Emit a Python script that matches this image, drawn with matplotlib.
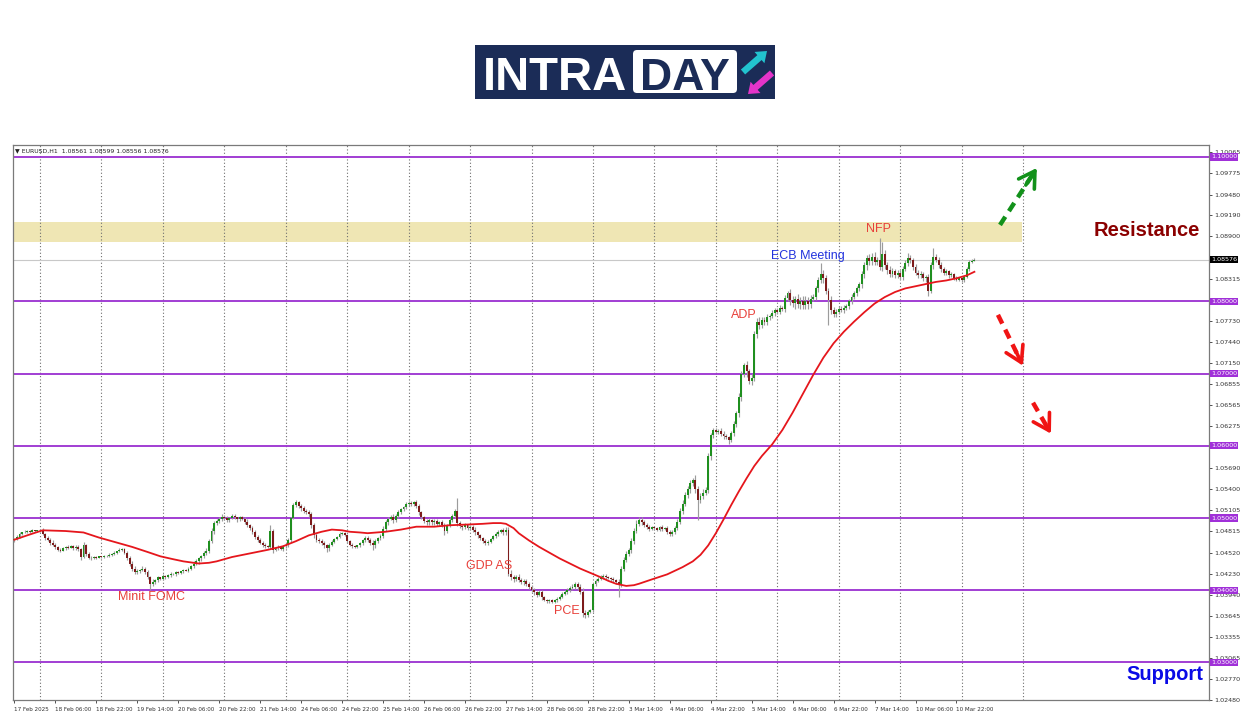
import numpy as np
import matplotlib
matplotlib.use("Agg")
import matplotlib.pyplot as plt
from matplotlib.patches import Rectangle, FancyBboxPatch, FancyArrow
from matplotlib.transforms import blended_transform_factory

plt.rcParams['font.family'] = ['DejaVu Sans']

# ---------------- data: prices in pips above 1.0000 (EURUSD H1) ----------------
FIRST_OPEN = 469.0
CLOSE_17FEB = [471,474,478,480,481,482,481,483,482,483]
CLOSE_18FEB = [484,478,473,470,466,463,460,456,455,458,460,459,461,458,460,457,446,462,450,445,444,446,445,447]
CLOSE_19FEB = [446,448,447,449,450,452,454,456,457,452,445,437,430,425,427,428,430,425,418,408,412,414,418,416]
CLOSE_20FEB = [420,418,421,423,422,425,424,426,428,427,430,433,437,440,444,447,452,455,468,482,493,496,499,502]
CLOSE_21FEB = [500,497,500,503,501,498,501,499,495,490,486,480,474,470,466,463,461,460,482,456,458,460,457,461]
CLOSE_24FEB = [463,470,500,518,522,517,514,510,508,505,490,476,470,468,465,462,458,463,467,471,474,478,479,476]
CLOSE_25FEB = [468,463,461,460,462,465,469,472,470,466,462,468,472,475,485,494,499,501,497,503,508,512,515,519]
CLOSE_26FEB = [521,519,522,517,508,501,496,494,497,494,496,492,494,490,482,490,497,503,510,493,489,487,490,486]
CLOSE_27FEB = [488,484,480,476,472,468,465,467,471,475,478,481,483,480,484,423,418,416,418,414,411,413,409,405]
CLOSE_28FEB = [400,397,394,398,390,387,385,386,384,386,388,391,395,398,400,403,405,408,404,398,368,366,370,372]
CLOSE_03MAR = [408,413,416,418,420,418,417,415,414,412,408,430,442,450,456,468,482,492,497,494,490,488,485,487]
CLOSE_04MAR = [486,484,487,485,486,481,478,480,486,495,510,520,532,540,548,553,540,525,530,535,539,586,615,622]
CLOSE_05MAR = [619,621,617,614,612,608,618,630,645,668,700,712,703,690,694,755,772,768,774,772,778,780,784,788]
CLOSE_06MAR = [786,791,790,805,812,802,798,803,797,800,795,801,796,804,806,818,830,838,832,815,802,788,782,786]
CLOSE_07MAR = [790,788,791,793,800,806,812,818,824,838,850,860,856,862,855,858,848,865,850,843,838,842,836,840]
CLOSE_10MAR = [834,845,853,860,857,848,840,836,838,832,834,815,850,862,858,850,845,840,842,836,838,833,830,832]
CLOSE_11MAR = [829,834,845,855,856,857.6]

UPPER_WICK = [
    [2,2,3,1,2,2,1,2,1,1],
    [1,2,1,2,2,3,2,1,2,2,1,2,2,1,2,3,2,5,2,3,2,2,1,1],
    [1,1,1,2,1,2,1,2,2,1,2,3,3,4,3,2,3,2,3,2,3,2,2,1],
    [2,1,1,2,1,1,2,1,1,2,2,2,3,3,2,2,3,4,3,4,3,2,3,4],
    [2,3,2,3,2,1,2,2,2,3,2,3,3,2,3,2,2,2,9,3,2,2,1,1],
    [2,3,2,3,3,2,2,3,2,3,4,3,3,2,3,3,2,2,2,2,1,2,1,2],
    [2,1,2,1,1,2,2,3,3,2,3,3,2,3,4,3,3,3,4,3,3,2,2,3],
    [2,3,1,3,3,2,2,2,3,2,3,2,2,3,3,2,3,3,2,18,3,2,3,2],
    [2,2,3,2,2,2,3,2,2,2,2,3,2,3,3,4,5,3,3,4,3,3,2,3],
    [2,3,2,3,2,2,1,2,2,2,2,3,3,2,3,3,4,3,4,4,5,4,3,2],
    [2,3,2,3,2,3,2,2,3,2,3,3,4,4,3,4,4,5,4,4,3,3,3,2],
    [2,2,2,3,2,3,2,3,3,4,4,5,4,5,4,2,6,5,4,5,4,4,3,3],
    [3,2,3,3,2,2,3,4,3,5,4,3,5,4,5,4,5,6,4,5,4,3,4,3],
    [3,4,3,4,3,5,6,5,7,6,8,6,5,5,4,3,4,15,6,5,4,5,4,3],
    [3,3,4,3,3,4,3,4,3,4,5,4,6,5,6,4,30,17,6,5,6,4,3,3],
    [3,4,5,7,4,3,4,3,4,3,3,4,5,12,4,3,4,3,3,2,3,2,2,2],
    [2,3,3,2,3,2.3],
]
LOWER_WICK = [
    [2,1,2,2,1,2,2,1,2,1],
    [2,2,3,2,3,2,3,2,2,1,2,2,1,2,2,3,4,2,3,2,2,1,2,1],
    [1,2,1,1,2,1,2,1,2,2,3,3,4,3,2,3,2,3,3,7,2,3,2,2],
    [2,2,1,2,1,2,1,2,2,1,2,2,2,2,3,3,3,3,4,3,4,3,3,3],
    [3,2,3,2,3,3,2,2,3,3,3,2,3,3,2,3,2,2,3,4,2,2,1,2],
    [2,3,3,2,3,3,4,3,3,3,4,4,3,3,2,3,5,3,2,2,2,2,2,1],
    [2,2,2,2,1,2,2,2,3,3,6,3,2,2,3,3,3,2,4,3,3,2,2,2],
    [3,3,2,3,4,3,3,3,3,4,3,3,3,3,5,3,2,2,3,4,3,3,2,2],
    [2,3,3,3,2,3,2,2,2,2,2,3,2,3,3,3,4,4,3,3,3,4,3,3],
    [3,3,3,2,3,2,2,2,2,1,2,2,2,2,3,3,3,3,3,3,5,4,3,2],
    [2,2,2,2,2,3,2,2,3,3,18,3,3,3,3,4,4,3,3,4,3,3,3,2],
    [2,2,2,3,2,3,3,3,2,3,3,4,4,4,5,4,5,28,4,4,3,5,5,4],
    [3,3,3,4,3,5,3,4,4,5,6,5,7,5,6,4,5,6,5,5,4,4,3,4],
    [3,4,3,5,4,7,6,8,6,7,6,5,6,5,4,4,5,4,6,5,35,5,4,4],
    [3,3,4,3,3,4,3,4,4,5,5,6,5,6,4,5,5,6,5,5,4,4,3,3],
    [3,4,3,4,4,5,4,4,3,4,5,8,4,5,4,4,4,3,3,3,2,3,2,2],
    [2,2,2,3,2,0.5],
]

# moving average (red line): bar index -> price (pips)
MA_BARS = [0, 5, 11, 20, 27, 33, 40, 46, 52, 57, 62, 66, 72, 76, 79, 85, 92, 99, 105, 110,
           115, 120, 124, 128, 131, 135, 138, 145, 151, 157, 164, 170, 177, 183, 187, 190, 192,
           195, 197, 201, 205, 209, 213, 217, 221, 225, 229, 232, 235, 239, 242, 244, 249, 255,
           261, 265, 268, 271, 274, 277, 280, 283, 286, 289, 292, 296, 300, 304, 308, 312, 316,
           320, 324, 328, 332, 336, 340, 344, 348, 352, 356, 360, 364, 368, 372, 375]
MA_PIPS = [470, 476, 483, 482, 480, 473, 466, 460, 453, 447, 443, 440, 437, 438, 440, 446, 451, 456, 461, 468,
           476, 481, 484, 483, 481, 480, 479, 481, 484, 488, 488, 490, 491, 492, 493, 493, 492,
           486, 479, 469, 460, 452, 444, 437, 430, 424, 418, 413, 409, 406, 407, 409, 415, 422,
           432, 440, 449, 462, 479, 498, 518, 537, 555, 572, 586, 602, 622, 646, 672, 698, 722,
           742, 758, 772, 785, 797, 806, 813, 818, 821, 824, 827, 829, 832, 836, 841]

LEVELS = [1.10, 1.08, 1.07, 1.06, 1.05, 1.04, 1.03]
LEVEL_LABELS = ["1.10000", "1.08000", "1.07000", "1.06000", "1.05000", "1.04000", "1.03000"]
CURRENT_PRICE = 1.08576
RESISTANCE_ZONE = (1.08828, 1.09105)

RIGHT_TICKS = [1.10065, 1.09775, 1.09480, 1.09190, 1.08900, 1.08315, 1.07730,
               1.07440, 1.07150, 1.06855, 1.06565, 1.06275, 1.05690, 1.05400, 1.05105,
               1.04815, 1.04520, 1.04230, 1.03940, 1.03645, 1.03355, 1.03065, 1.02770, 1.02480]
TIME_LABELS = ["17 Feb 2025", "18 Feb 06:00", "18 Feb 22:00", "19 Feb 14:00", "20 Feb 06:00",
               "20 Feb 22:00", "21 Feb 14:00", "24 Feb 06:00", "24 Feb 22:00", "25 Feb 14:00",
               "26 Feb 06:00", "26 Feb 22:00", "27 Feb 14:00", "28 Feb 06:00", "28 Feb 22:00",
               "3 Mar 14:00", "4 Mar 06:00", "4 Mar 22:00", "5 Mar 14:00", "6 Mar 06:00",
               "6 Mar 22:00", "7 Mar 14:00", "10 Mar 06:00", "10 Mar 22:00"]
BARS_PER_LABEL = 16
HEADER = "\u25bc EURUSD,H1  1.08561 1.08599 1.08556 1.08576"

# ---------------- build OHLC ----------------
days = [CLOSE_17FEB, CLOSE_18FEB, CLOSE_19FEB, CLOSE_20FEB, CLOSE_21FEB, CLOSE_24FEB, CLOSE_25FEB,
        CLOSE_26FEB, CLOSE_27FEB, CLOSE_28FEB, CLOSE_03MAR, CLOSE_04MAR, CLOSE_05MAR, CLOSE_06MAR,
        CLOSE_07MAR, CLOSE_10MAR, CLOSE_11MAR]
close_p = np.concatenate([np.array(d, float) for d in days])
uw = np.concatenate([np.array(d, float) for d in UPPER_WICK])
lw = np.concatenate([np.array(d, float) for d in LOWER_WICK])
open_p = np.r_[FIRST_OPEN, close_p[:-1]]
C = 1 + close_p / 1e4
O = 1 + open_p / 1e4
H = np.maximum(O, C) + uw / 1e4
L = np.minimum(O, C) - lw / 1e4
n = len(C)
xb = np.arange(n)
day_starts = np.cumsum([len(d) for d in days])[:-1]
grid_bars = list(day_starts) + [day_starts[-1] + 24]

# ---------------- figure ----------------
W, Hh = 1250, 716
fig = plt.figure(figsize=(W / 100, Hh / 100), dpi=100)
fig.patch.set_facecolor('white')
ax = fig.add_axes([13 / W, (Hh - 700) / Hh, (1209 - 13) / W, (700 - 145) / Hh])
X0, PXB = 14.4, 2.56
xl = ((13 - X0) / PXB, (1209 - X0) / PXB)
ax.set_xlim(*xl)
ax.set_ylim(1.02488, 1.10166)

# resistance zone
zone_end = (1022 - X0) / PXB
ax.add_patch(Rectangle((xl[0], RESISTANCE_ZONE[0]), zone_end - xl[0],
                       RESISTANCE_ZONE[1] - RESISTANCE_ZONE[0], fc='#efe6b4', ec='none', zorder=0.5))

# vertical dotted grid at day starts
for g in grid_bars:
    ax.axvline(g, color='#6e6e6e', lw=0.8, ls=(0, (1, 2)), zorder=0.8)

# current price line
ax.axhline(CURRENT_PRICE, color='#c8c8c8', lw=0.8, zorder=0.9)

# level lines
for lv in LEVELS:
    ax.axhline(lv, color='#9a2fd0', lw=1.3, zorder=1)

# candles
up = C >= O
ax.vlines(xb, L, H, color='#9c9c9c', lw=0.85, zorder=3)
body_lo = np.minimum(O, C)
body_h = np.maximum(np.abs(C - O), 0.00004)
ax.bar(xb[up], body_h[up], bottom=body_lo[up], width=0.75, color='#1f8f1f', ec='none', zorder=4)
ax.bar(xb[~up], body_h[~up], bottom=body_lo[~up], width=0.75, color='#7e1b1b', ec='none', zorder=4)

# moving average
ax.plot(MA_BARS, 1 + np.array(MA_PIPS) / 1e4, color='#e5161c', lw=1.3, zorder=5,
        solid_joinstyle='round')

# event labels
ev_kw = dict(fontsize=9, family='Liberation Sans', ha='center', va='center', zorder=6)
ax.text(53.4, 1.03900, "Minit FOMC", color='#e8403a', **ev_kw)
ax.text(185.4, 1.04342, "GDP AS", color='#e8403a', **ev_kw)
ax.text(215.9, 1.03719, "PCE", color='#e8403a', **ev_kw)
ax.text(284.8, 1.07814, "ADP", color='#e8403a', **ev_kw)
ax.text(309.8, 1.08630, "ECB Meeting", color='#2233dd', **ev_kw)
ax.text(337.5, 1.09004, "NFP", color='#e8403a', **ev_kw)

ax.text(442.4, 1.08976, "Resistance", color='#8b0000', fontsize=14.5, fontweight='bold',
        family='Liberation Sans', ha='center', va='center', zorder=6)
ax.text(449.2, 1.02834, "Support", color='#0a0ae6', fontsize=14.5, fontweight='bold',
        family='Liberation Sans', ha='center', va='center', zorder=6)

# arrows (dashed shaft + open head)
def dashed_arrow(x0, y0, x1, y1, color):
    f = 0.88
    xm, ym = x0 + (x1 - x0) * f, y0 + (y1 - y0) * f
    ax.plot([x0, xm], [y0, ym], color=color, lw=3.2, ls=(0, (2.2, 1.5)),
            solid_capstyle='butt', dash_capstyle='butt', zorder=7)
    ax.annotate('', xy=(x1, y1), xytext=(x0 + (x1 - x0) * 0.7, y0 + (y1 - y0) * 0.7),
                arrowprops=dict(arrowstyle='->,head_length=0.75,head_width=0.45', color=color,
                                lw=2.6, mutation_scale=15, shrinkA=0, shrinkB=0), zorder=7)

dashed_arrow(385.0, 1.09059, 399.4, 1.09848, '#12911a')
dashed_arrow(384.2, 1.07814, 393.97, 1.07109, '#f01414')
dashed_arrow(397.9, 1.06597, 404.9, 1.06168, '#f01414')

# header
ax.text(0.002, 0.989, HEADER, transform=ax.transAxes, fontsize=4.4, va='center', ha='left',
        color='#222222', zorder=8)

# axes styling
for s in ax.spines.values():
    s.set_color('#7a7a7a')
    s.set_linewidth(0.9)
ax.yaxis.tick_right()
ax.set_yticks(RIGHT_TICKS)
ax.set_yticklabels([f"{v:.5f}" for v in RIGHT_TICKS])
ax.tick_params(axis='y', labelsize=4.6, length=2.2, width=0.6, pad=1.5, colors='#333333')
ax.set_xticks([k * BARS_PER_LABEL for k in range(len(TIME_LABELS))])
ax.set_xticklabels(TIME_LABELS)
ax.tick_params(axis='x', labelsize=4.1, length=2.2, width=0.6, pad=2.5, colors='#333333')
for t in ax.get_xticklabels():
    t.set_ha('left')

# right-side highlighted price boxes
tr = blended_transform_factory(ax.transAxes, ax.transData)
for lv, lab in zip(LEVELS, LEVEL_LABELS):
    ax.text(1.0015, lv, lab, transform=tr, fontsize=4.6, color='white', ha='left', va='center',
            bbox=dict(boxstyle='square,pad=0.18', fc='#a030d8', ec='none'), zorder=20, clip_on=False)
ax.text(1.0015, CURRENT_PRICE, f"{CURRENT_PRICE:.5f}", transform=tr, fontsize=4.6, color='white',
        ha='left', va='center', bbox=dict(boxstyle='square,pad=0.18', fc='#000000', ec='none'),
        zorder=21, clip_on=False)

# ---------------- logo ----------------
lax = fig.add_axes([475 / W, 1 - 99 / Hh, 300 / W, 54 / Hh])
lax.set_xlim(0, 300)
lax.set_ylim(54, 0)
lax.axis('off')
lax.add_patch(Rectangle((0, 0), 300, 54, fc='#1b2c57', ec='none'))
lax.text(8, 45, "INTRA", color='white', fontsize=34, fontweight='bold', family='Liberation Sans',
         ha='left', va='baseline')
lax.add_patch(FancyBboxPatch((158, 5), 104, 43, boxstyle='round,pad=0,rounding_size=4',
                             fc='white', ec='none'))
lax.text(210, 45, "DAY", color='#1b2c57', fontsize=32, fontweight='bold', family='Liberation Sans',
         ha='center', va='baseline')
lax.add_patch(FancyArrow(268, 27, 24, -21, width=6.5, head_width=15, head_length=10,
                         length_includes_head=True, fc='#22c3cf', ec='none'))
lax.add_patch(FancyArrow(297, 28, -24, 21, width=6.5, head_width=15, head_length=10,
                         length_includes_head=True, fc='#e434c9', ec='none'))

fig.savefig("out.png", dpi=100)
